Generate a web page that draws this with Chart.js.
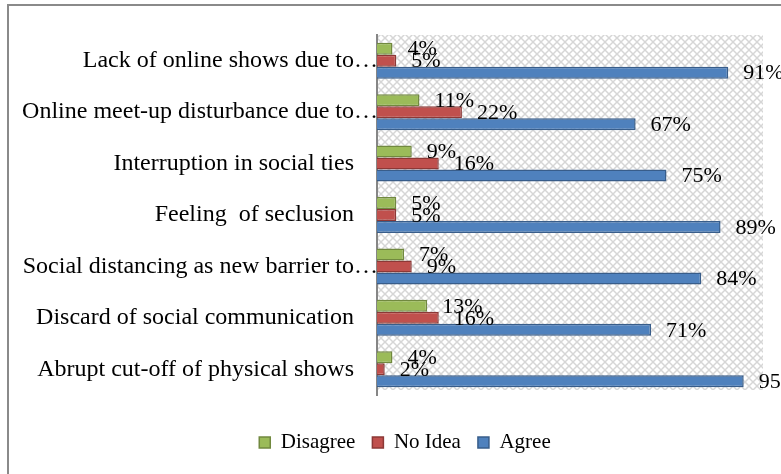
<!DOCTYPE html>
<html>
<head>
<meta charset="utf-8">
<script src="https://cdn.jsdelivr.net/npm/chart.js@4.4.0/dist/chart.umd.min.js"></script>
<style>
  html, body { margin: 0; padding: 0; background: #fff; overflow: hidden; }
  #frame {
    position: absolute; left: 7px; top: 4px;
    width: 792px; height: 480px;
    border: 2px solid #8a8a8a;
    background: #fff;
  }
  #myChart { display: block; }
</style>
</head>
<body>
<div id="frame"><canvas id="myChart" width="792" height="480"></canvas></div>
<script>
const categories = [
  'Lack of online shows due to…',
  'Online meet-up disturbance due to…',
  'Interruption in social ties',
  'Feeling  of seclusion',
  'Social distancing as new barrier to…',
  'Discard of social communication',
  'Abrupt cut-off of physical shows'
];
const disagree = [4, 11, 9, 5, 7, 13, 4];
const noIdea = [5, 22, 16, 5, 9, 16, 2];
const agree = [91, 67, 75, 89, 84, 71, 95];

const serif = '"Liberation Serif", "Times New Roman", serif';

// hatched background behind the bars
function makePattern(ctx) {
  const c = document.createElement('canvas');
  c.width = 8; c.height = 8;
  const p = c.getContext('2d');
  p.fillStyle = '#ffffff';
  p.fillRect(0, 0, 8, 8);
  p.strokeStyle = '#d6d6d6';
  p.lineWidth = 1.5;
  p.beginPath();
  p.moveTo(0, 0); p.lineTo(8, 8);
  p.moveTo(8, 0); p.lineTo(0, 8);
  p.stroke();
  return ctx.createPattern(c, 'repeat');
}

const plotBg = {
  id: 'plotBg',
  beforeDraw(chart) {
    const { ctx, chartArea: a } = chart;
    ctx.save();
    ctx.fillStyle = makePattern(ctx);
    ctx.fillRect(a.left, a.top, a.right - a.left, a.bottom - a.top - 5);
    ctx.restore();
  }
};

// legend is centred on the whole frame, not only left of the right padding
const legendShift = {
  id: 'legendShift',
  afterLayout(chart) {
    const l = chart.legend;
    l.left += 19;
    l.right += 19;
  }
};

// value labels after each bar
const valueLabels = {
  id: 'valueLabels',
  afterDatasetsDraw(chart) {
    const ctx = chart.ctx;
    ctx.save();
    ctx.font = '22px ' + serif;
    ctx.fillStyle = '#000';
    ctx.textAlign = 'left';
    ctx.textBaseline = 'middle';
    chart.data.datasets.forEach((ds, i) => {
      chart.getDatasetMeta(i).data.forEach((bar, j) => {
        ctx.fillText(ds.data[j] + '%', bar.x + 15, bar.y + 1);
      });
    });
    ctx.restore();
  }
};

const ctx = document.querySelector('#myChart').getContext('2d');

const myChart = new Chart(ctx, {
  type: 'bar',
  data: {
    labels: categories,
    datasets: [
      { label: 'Disagree', data: disagree, backgroundColor: '#9bbb59', borderColor: '#71893f', borderWidth: 1.5 },
      { label: 'No Idea', data: noIdea, backgroundColor: '#c0504d', borderColor: '#8c3836', borderWidth: 1.5 },
      { label: 'Agree', data: agree, backgroundColor: '#4f81bd', borderColor: '#385d8a', borderWidth: 1.5 }
    ]
  },
  options: {
    indexAxis: 'y',
    responsive: false,
    animation: false,
    datasets: {
      bar: { categoryPercentage: 0.70, barPercentage: 1.0 }
    },
    layout: { padding: { top: 29, right: 38, left: 0, bottom: 23 } },
    scales: {
      x: {
        min: 0, max: 100,
        grid: { display: false },
        border: { display: false },
        ticks: { display: false },
        afterFit(scale) { scale.height = 20; }
      },
      y: {
        grid: { display: false },
        border: { display: true, color: '#868686', width: 2 },
        ticks: {
          color: '#000',
          padding: -9,
          font: { family: serif, size: 24 },
          callback(value) {
            const t = this.getLabelForValue(value);
            return t.endsWith('…') ? t : t + '\u00a0\u00a0\u00a0\u00a0';
          }
        },
        afterFit(scale) { scale.width = 368; }
      }
    },
    plugins: {
      legend: {
        position: 'bottom',
        labels: {
          color: '#000',
          boxWidth: 11,
          boxHeight: 11,
          padding: 17,
          font: { family: serif, size: 21 }
        }
      },
      tooltip: { enabled: false }
    }
  },
  plugins: [plotBg, legendShift, valueLabels]
});
</script>
</body>
</html>
